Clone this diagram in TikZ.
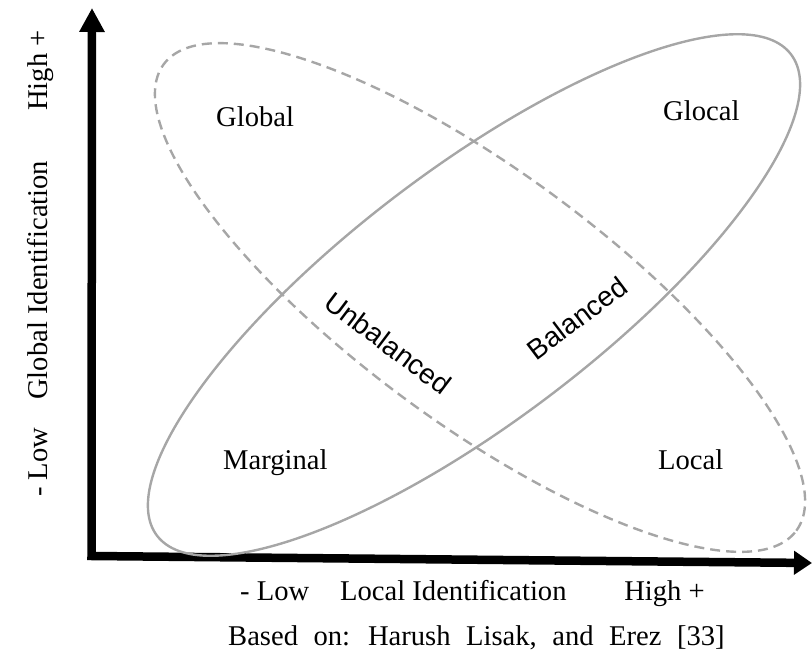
\documentclass[tikz,border=0pt]{standalone}
\usepackage{fontspec}
\setmainfont{Liberation Serif}
\newfontfamily\arialf{Liberation Sans}
\usetikzlibrary{arrows.meta}
\begin{document}
\begin{tikzpicture}[x=1pt,y=1pt,
  axisline/.style={line width=8.5pt, line join=miter},
  ell/.style={draw=black!35, line width=2.4pt},
  quad/.style={font=\fontsize{28.6}{34}\selectfont, inner sep=0pt},
  diag/.style={font=\arialf\fontsize{28}{33}\selectfont, inner sep=0pt},
  axlab/.style={font=\fontsize{28.6}{34}\selectfont, inner sep=0pt}]
\useasboundingbox (0,0) rectangle (812,657);
% axes
\coordinate (ytip) at (92,649);
\coordinate (origin) at (91.5,101);
\coordinate (xtip) at (812,94);
\draw[axisline, {Triangle[length=24pt,width=24pt]}-{Triangle[length=18pt,width=23pt]}] (ytip) -- (origin) -- (xtip);
% ellipses
\draw[ell] (474,362) ellipse[x radius=398, y radius=126, rotate=37.2];
\draw[ell, dash pattern=on 10pt off 6pt] (480,359.5) ellipse[x radius=393, y radius=126, rotate=-36.4];
% quadrant labels
\node[quad, anchor=base west] (global) at (216,530) {Global};
\node[quad, anchor=base west] (glocal) at (663,536) {Glocal};
\node[quad, anchor=base west] (marginal) at (223,188) {Marginal};
\node[quad, anchor=base west] (local) at (658,187) {Local};
% diagonal labels
\node[diag, rotate=-37] (unbal) at (388,314) {Unbalanced};
\node[diag, rotate=37] (bal) at (577,339) {Balanced};
% x axis label
\node[axlab, anchor=base west] (xlow) at (240,57) {- Low};
\node[axlab, anchor=base west] (xname) at (340,57) {Local Identification};
\node[axlab, anchor=base east] (xhigh) at (705,57) {High +};
% y axis label
\node[axlab, rotate=90, anchor=base west] (ylow) at (47,160) {- Low};
\node[axlab, rotate=90, anchor=base west] (yname) at (47,257) {Global Identification};
\node[axlab, rotate=90, anchor=base east] (yhigh) at (47,627) {High +};
% caption
\node[axlab, anchor=base west] (cap) at (228,12) {\spaceskip=15.5pt plus 1pt Based on: Harush Lisak, and Erez [33]};
\end{tikzpicture}
\end{document}
